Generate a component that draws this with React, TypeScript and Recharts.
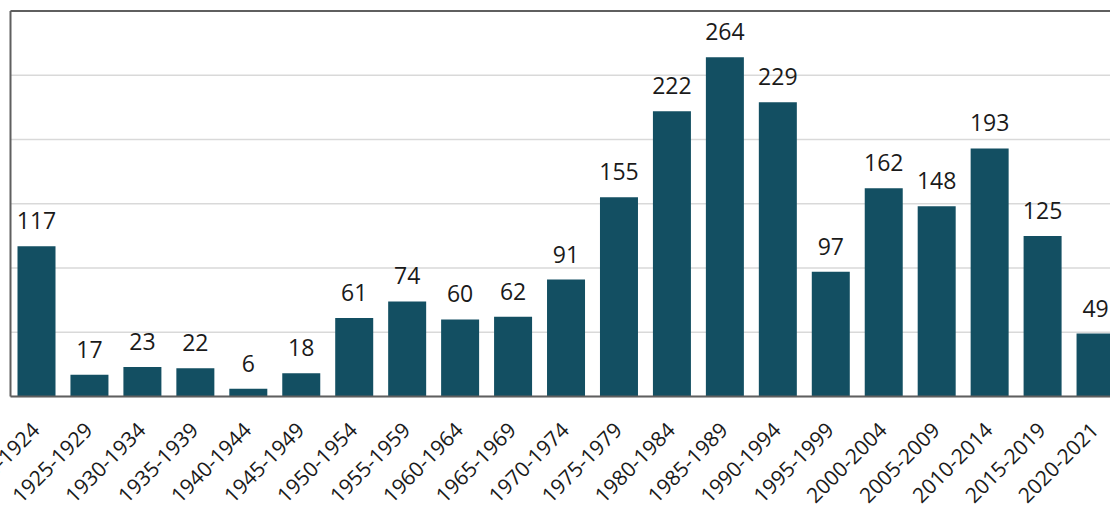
import { BarChart, Bar, XAxis, YAxis, CartesianGrid, LabelList, ReferenceLine } from 'recharts';

const periods = [
  '1920-1924', '1925-1929', '1930-1934', '1935-1939', '1940-1944', '1945-1949',
  '1950-1954', '1955-1959', '1960-1964', '1965-1969', '1970-1974', '1975-1979',
  '1980-1984', '1985-1989', '1990-1994', '1995-1999', '2000-2004', '2005-2009',
  '2010-2014', '2015-2019', '2020-2021',
];
const counts = [117, 17, 23, 22, 6, 18, 61, 74, 60, 62, 91, 155, 222, 264, 229, 97, 162, 148, 193, 125, 49];
const yTicks = [0, 50, 100, 150, 200, 250, 300];

const data = periods.map((period, i) => ({ period, count: counts[i] }));

function PeriodTick(props: any) {
  const { x, y, payload } = props;
  return (
    <g transform={`translate(${x + 4},${y + 35})`}>
      <text
        transform="rotate(-45)"
        textAnchor="end"
        fill="#1a1a1a"
        fontSize={21}
        fontFamily="'Open Sans', sans-serif"
      >
        {payload.value}
      </text>
    </g>
  );
}

// y-axis has no visible labels in the original, only gridlines
const EmptyTick = () => <g />;

export default function App() {
  return (
    <div style={{ position: 'absolute', left: 0, top: 0, width: 1110, height: 509, overflow: 'hidden', background: '#fff' }}>
      <BarChart
        width={1140}
        height={509}
        data={data}
        margin={{ top: 11, right: 17.5, bottom: 0, left: 9.5 }}
        barSize={38}
      >
        <CartesianGrid vertical={false} stroke="#d9d9d9" strokeWidth={1.5} />
        <YAxis
          width={1}
          domain={[0, 300]}
          ticks={yTicks}
          tick={<EmptyTick />}
          tickLine={false}
          axisLine={{ stroke: '#5f5f5f', strokeWidth: 2 }}
        />
        <XAxis
          dataKey="period"
          height={112.5}
          interval={0}
          tickSize={0}
          tickMargin={0}
          tickLine={false}
          axisLine={{ stroke: '#5f5f5f', strokeWidth: 2 }}
          tick={<PeriodTick />}
        />
        <ReferenceLine y={300} stroke="#5f5f5f" strokeWidth={2} />
        <Bar dataKey="count" fill="#134f62" isAnimationActive={false}>
          <LabelList
            dataKey="count"
            position="top"
            offset={17}
            fill="#1a1a1a"
            fontSize={23}
            fontFamily="'Open Sans', sans-serif"
          />
        </Bar>
      </BarChart>
    </div>
  );
}
